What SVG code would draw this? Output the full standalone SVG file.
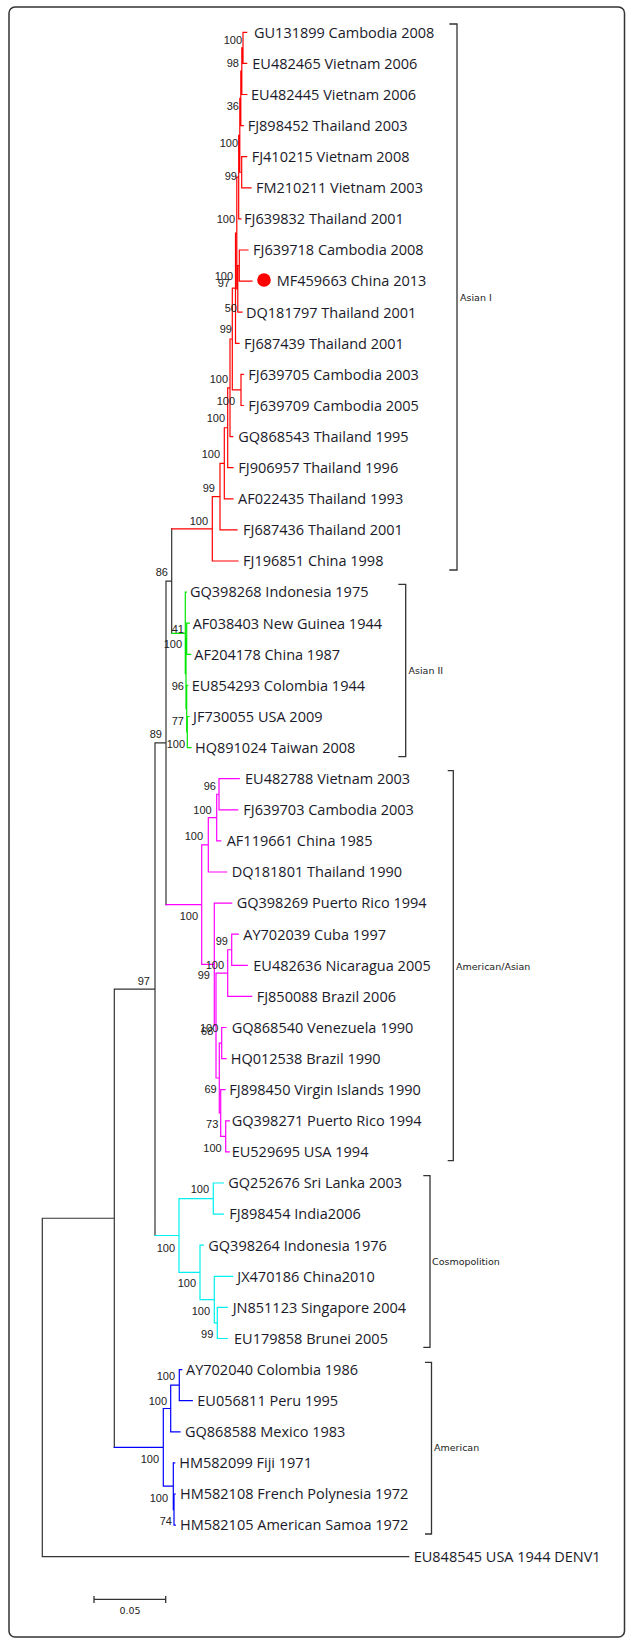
<svg xmlns="http://www.w3.org/2000/svg" width="627" height="1640" viewBox="0 0 627 1640">
<style>
.frame{fill:#fff;stroke:#333;stroke-width:1.5}
.br{fill:none;stroke-width:1.2;stroke-linecap:square}
.blk{stroke:#333}
.red{stroke:#ff0000}
.grn{stroke:#00e600}
.mag{stroke:#ff00ff}
.cyn{stroke:#00f0f0}
.blu{stroke:#0000ff}
.brk{fill:none;stroke:#333;stroke-width:1.3}
.leaf{font-family:"Open Sans","DejaVu Sans",sans-serif;font-size:14.5px;fill:#1a1a2a}
.bs{font-family:"Liberation Sans",Arial,sans-serif;font-size:11px;fill:#222;text-anchor:end}
.cl{font-family:"DejaVu Sans",Verdana,sans-serif;font-size:9.5px;fill:#222}
</style>
<rect class="frame" x="9" y="7" width="615.5" height="1630" rx="6"/>
<g id="connectors">
<path class="br blk" d="M171.7,528.8V633.3M166,581.05H171.7M166,581.05V904.55M155,742.8H166M155,742.8V1235.5M114.3,989.15H155M114.3,989.15V1447.35M42.3,1218.25H114.3M42.3,1218.25V1556.7M42.3,1556.7H408.7"/>
<path class="br red" d="M171.7,528.8H212.3M212.3,496.6V561M212.3,561H238M212.3,496.6H220M220,463.3V529.9M220,529.9H237M220,463.3H224.3M224.3,427.75V498.8M224.3,498.8H233M224.3,427.75H227.7M227.7,387.8V467.7M227.7,467.7H233M227.7,387.8H230M230,339V436.6M230,436.6H232.7M230,339H232.3M232.3,288.15V389.95M232.3,389.95H241M232.3,288.15H235.5M241,374.4V405.5M241,374.4H243.3M241,405.5H243.3M235.5,233V343.3M235.5,343.3H239M235.5,233H236.8M236.8,177.1V288.9M236.8,288.9H237.8M236.8,177.1H238.7M237.8,265.55V312.2M237.8,312.2H242M237.8,265.55H239.3M239.3,250V281.1M239.3,250H248M239.3,281.1H252M238.7,135.3V218.9M238.7,218.9H241M238.7,135.3H239.8M239.8,98.4V172.25M239.8,172.25H241.7M239.8,98.4H240.8M241.7,156.7V187.8M241.7,156.7H246.7M241.7,187.8H251M240.8,71.2V125.6M240.8,125.6H243.3M240.8,71.2H241.8M241.8,47.85V94.5M241.8,94.5H246.7M241.8,47.85H243M243,32.3V63.4M243,32.3H246.7M243,63.4H246.7"/>
<path class="br grn" d="M171.7,633.3H185.3M185.3,592.1V673.7M185.3,592.1H186.5M185.3,673.7H186M186,638.75V708.7M186,638.75H186.7M186,708.7H186.7M186.7,623.2V654.3M186.7,623.2H189.3M186.7,654.3H190.7M186.7,685.4V732M186.7,685.4H187.7M186.7,732H187.3M187.3,716.5V747.6M187.3,716.5H189M187.3,747.6H191"/>
<path class="br mag" d="M166,904.55H201.7M201.7,844.8V964.3M201.7,844.8H208.3M208.3,817.6V872M208.3,872H226.7M208.3,817.6H216.7M216.7,794.25V840.9M216.7,840.9H220.7M216.7,794.25H219M219,778.7V809.8M219,778.7H239.3M219,809.8H237.7M201.7,964.3H214.3M214.3,903.1V1025.55M214.3,903.1H231.7M214.3,1025.55H216M216,973.1V1078M216,973.1H227.7M227.7,949.75V996.4M227.7,996.4H251.7M227.7,949.75H231.7M231.7,934.2V965.3M231.7,934.2H238.3M231.7,965.3H247.3M216,1078H219.3M219.3,1043.05V1113M219.3,1043.05H221.7M221.7,1027.5V1058.6M221.7,1027.5H226M221.7,1058.6H226M219.3,1113H220.7M220.7,1089.7V1136.35M220.7,1089.7H225M220.7,1136.35H225.7M225.7,1120.8V1151.9M225.7,1120.8H229.3M225.7,1151.9H229.3"/>
<path class="br cyn" d="M155,1235.5H179M179,1198.55V1272.4M179,1198.55H213.3M213.3,1183V1214.1M213.3,1183H223.3M213.3,1214.1H223.3M179,1272.4H200M200,1245.2V1299.6M200,1245.2H203.3M200,1299.6H214.3M214.3,1276.3V1322.95M214.3,1276.3H232.7M214.3,1322.95H217.3M217.3,1307.4V1338.5M217.3,1307.4H227.3M217.3,1338.5H227.3"/>
<path class="br blu" d="M114.3,1447.35H163.3M163.3,1408.5V1486.2M163.3,1408.5H170.7M170.7,1385.15V1431.8M170.7,1431.8H180M170.7,1385.15H179.3M179.3,1369.6V1400.7M179.3,1369.6H181.7M179.3,1400.7H192.3M163.3,1486.2H173.3M173.3,1462.9V1509.55M173.3,1462.9H174.7M173.3,1509.55H174M174,1494V1525.1M174,1494H175.3M174,1525.1H175.3"/>
</g>
<g id="asian1">
<text class="leaf" x="254" y="37.6">GU131899 Cambodia 2008</text>
<text class="leaf" x="252.3" y="68.7">EU482465 Vietnam 2006</text>
<text class="leaf" x="251" y="99.8">EU482445 Vietnam 2006</text>
<text class="leaf" x="247.7" y="130.9">FJ898452 Thailand 2003</text>
<text class="leaf" x="251.7" y="162">FJ410215 Vietnam 2008</text>
<text class="leaf" x="256" y="193.1">FM210211 Vietnam 2003</text>
<text class="leaf" x="244" y="224.2">FJ639832 Thailand 2001</text>
<text class="leaf" x="253" y="255.3">FJ639718 Cambodia 2008</text>
<circle cx="264" cy="280" r="6.8" fill="#ff0000"/>
<text class="leaf" x="276.7" y="286.4">MF459663 China 2013</text>
<text class="leaf" x="246" y="317.5">DQ181797 Thailand 2001</text>
<text class="leaf" x="244" y="348.6">FJ687439 Thailand 2001</text>
<text class="leaf" x="248.3" y="379.7">FJ639705 Cambodia 2003</text>
<text class="leaf" x="248.3" y="410.8">FJ639709 Cambodia 2005</text>
<text class="leaf" x="238.3" y="441.9">GQ868543 Thailand 1995</text>
<text class="leaf" x="238.3" y="473">FJ906957 Thailand 1996</text>
<text class="leaf" x="238" y="504.1">AF022435 Thailand 1993</text>
<text class="leaf" x="243" y="535.2">FJ687436 Thailand 2001</text>
<text class="leaf" x="243" y="566.3">FJ196851 China 1998</text>
<text class="bs" x="242" y="43.5">100</text>
<text class="bs" x="239" y="67">98</text>
<text class="bs" x="239" y="110">36</text>
<text class="bs" x="238" y="147">100</text>
<text class="bs" x="237" y="180">99</text>
<text class="bs" x="235" y="223">100</text>
<text class="bs" x="233" y="280">100</text>
<text class="bs" x="230" y="287">97</text>
<text class="bs" x="237" y="312">50</text>
<text class="bs" x="232" y="333">99</text>
<text class="bs" x="228" y="383">100</text>
<text class="bs" x="235" y="405">100</text>
<text class="bs" x="225" y="422">100</text>
<text class="bs" x="220" y="458">100</text>
<text class="bs" x="215" y="492">99</text>
<text class="bs" x="208" y="525">100</text>
<path class="brk" d="M449.3,24H457V570H449.3"/>
<text class="cl" x="460" y="300.5">Asian I</text>
</g>
<g id="backbone">
<text class="bs" x="168" y="576">86</text>
<text class="bs" x="162" y="738">89</text>
<text class="bs" x="150" y="985">97</text>
</g>
<g id="asian2">
<text class="leaf" x="190" y="597.4">GQ398268 Indonesia 1975</text>
<text class="leaf" x="192.7" y="628.5">AF038403 New Guinea 1944</text>
<text class="leaf" x="194.3" y="659.6">AF204178 China 1987</text>
<text class="leaf" x="191.7" y="690.7">EU854293 Colombia 1944</text>
<text class="leaf" x="193" y="721.8">JF730055 USA 2009</text>
<text class="leaf" x="195" y="752.9">HQ891024 Taiwan 2008</text>
<text class="bs" x="184" y="633">41</text>
<text class="bs" x="182" y="648">100</text>
<text class="bs" x="184" y="690">96</text>
<text class="bs" x="184" y="725">77</text>
<text class="bs" x="185" y="748">100</text>
<path class="brk" d="M398.3,584.3H405.7V756.7H398.3"/>
<text class="cl" x="408.5" y="674">Asian II</text>
</g>
<g id="american-asian">
<text class="leaf" x="245" y="784">EU482788 Vietnam 2003</text>
<text class="leaf" x="243.3" y="815.1">FJ639703 Cambodia 2003</text>
<text class="leaf" x="226.7" y="846.2">AF119661 China 1985</text>
<text class="leaf" x="231.7" y="877.3">DQ181801 Thailand 1990</text>
<text class="leaf" x="236.7" y="908.4">GQ398269 Puerto Rico 1994</text>
<text class="leaf" x="243.3" y="939.5">AY702039 Cuba 1997</text>
<text class="leaf" x="253.3" y="970.6">EU482636 Nicaragua 2005</text>
<text class="leaf" x="256.7" y="1001.7">FJ850088 Brazil 2006</text>
<text class="leaf" x="231.7" y="1032.8">GQ868540 Venezuela 1990</text>
<text class="leaf" x="230.7" y="1063.9">HQ012538 Brazil 1990</text>
<text class="leaf" x="229.3" y="1095">FJ898450 Virgin Islands 1990</text>
<text class="leaf" x="231.7" y="1126.1">GQ398271 Puerto Rico 1994</text>
<text class="leaf" x="231.7" y="1157.2">EU529695 USA 1994</text>
<text class="bs" x="216" y="790">96</text>
<text class="bs" x="211.7" y="814">100</text>
<text class="bs" x="203" y="840">100</text>
<text class="bs" x="198" y="920">100</text>
<text class="bs" x="228" y="945">99</text>
<text class="bs" x="224" y="969">100</text>
<text class="bs" x="210" y="979">99</text>
<text class="bs" x="218.3" y="1032">100</text>
<text class="bs" x="213.3" y="1035">68</text>
<text class="bs" x="216.7" y="1093">69</text>
<text class="bs" x="218.3" y="1128">73</text>
<text class="bs" x="221.7" y="1152">100</text>
<path class="brk" d="M447.7,770.7H453.3V1160.7H447.7"/>
<text class="cl" x="456" y="969.5">American/Asian</text>
</g>
<g id="cosmopolitan">
<text class="leaf" x="228.3" y="1188.3">GQ252676 Sri Lanka 2003</text>
<text class="leaf" x="229.3" y="1219.4">FJ898454 India2006</text>
<text class="leaf" x="208.3" y="1250.5">GQ398264 Indonesia 1976</text>
<text class="leaf" x="237.3" y="1281.6">JX470186 China2010</text>
<text class="leaf" x="232.7" y="1312.7">JN851123 Singapore 2004</text>
<text class="leaf" x="234" y="1343.8">EU179858 Brunei 2005</text>
<text class="bs" x="209" y="1193">100</text>
<text class="bs" x="175" y="1252">100</text>
<text class="bs" x="196" y="1287">100</text>
<text class="bs" x="210" y="1315">100</text>
<text class="bs" x="213.3" y="1338">99</text>
<path class="brk" d="M423.3,1175.7H430V1347.3H423.3"/>
<text class="cl" x="432" y="1265">Cosmopolition</text>
</g>
<g id="american">
<text class="leaf" x="186" y="1374.9">AY702040 Colombia 1986</text>
<text class="leaf" x="197.3" y="1406">EU056811 Peru 1995</text>
<text class="leaf" x="185" y="1437.1">GQ868588 Mexico 1983</text>
<text class="leaf" x="179.3" y="1468.2">HM582099 Fiji 1971</text>
<text class="leaf" x="180" y="1499.3">HM582108 French Polynesia 1972</text>
<text class="leaf" x="180" y="1530.4">HM582105 American Samoa 1972</text>
<text class="bs" x="175" y="1380">100</text>
<text class="bs" x="167" y="1405">100</text>
<text class="bs" x="159" y="1463">100</text>
<text class="bs" x="168" y="1502">100</text>
<text class="bs" x="172" y="1525">74</text>
<path class="brk" d="M425,1362.3H431.5V1534H425"/>
<text class="cl" x="434" y="1450.5">American</text>
</g>
<g id="outgroup">
<text class="leaf" x="413.7" y="1562">EU848545 USA 1944 DENV1</text>
</g>
<g id="scalebar">
<path class="brk" d="M94,1599.3H165.7M94,1596V1603M165.7,1596V1603"/>
<text class="cl" x="130" y="1614" text-anchor="middle">0.05</text>
</g>
</svg>
